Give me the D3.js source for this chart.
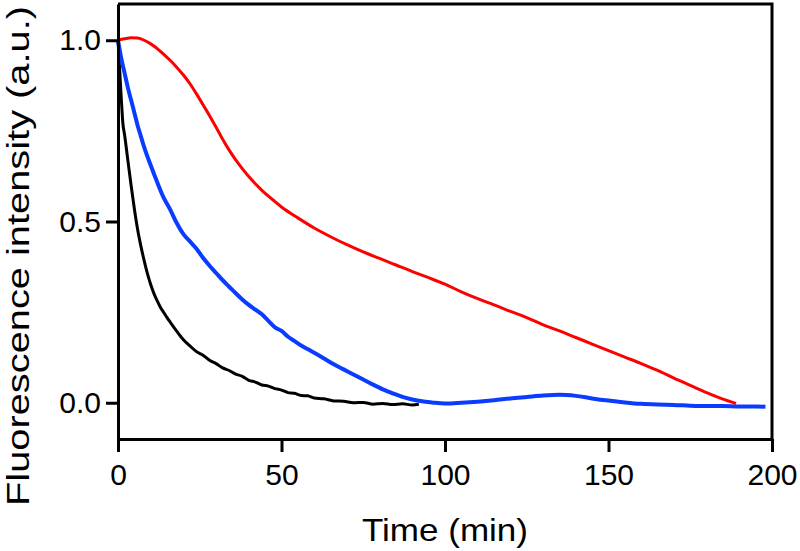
<!DOCTYPE html>
<html>
<head>
<meta charset="utf-8">
<script src="https://cdn.jsdelivr.net/npm/d3@7"></script>
<style>
  html, body { margin: 0; padding: 0; background: #fff; }
  svg { display: block; }
  text { font-family: "Liberation Sans", Arial, Helvetica, sans-serif; fill: #000; }
</style>
</head>
<body>
<svg id="chart" width="800" height="551"></svg>
<script>
// ---- Data ----
const xTicks = [0, 50, 100, 150, 200];
const yTicks = [0.0, 0.5, 1.0];
const xLabel = "Time (min)";
const yLabel = "Fluorescence intensity (a.u.)";

const blackTime = [0,0.5,1,1.5,2,3,4,5,6,7,8,9,10,11,12,13,14,15,16,18,20,22,24,26,28,30,32,34,36,38,40,42,44,46,48,50,52,54,56,58,60,63,66,69,72,75,78,81,84,87,90,92];
const blackValue = [1.0,0.92,0.84,0.77,0.74,0.67,0.60,0.535,0.478,0.432,0.392,0.356,0.326,0.301,0.281,0.263,0.249,0.235,0.222,0.197,0.174,0.157,0.141,0.131,0.117,0.108,0.096,0.089,0.079,0.073,0.062,0.057,0.049,0.046,0.039,0.035,0.028,0.026,0.020,0.019,0.013,0.011,0.005,0.004,0.000,0.001,-0.004,-0.002,-0.005,-0.003,-0.006,-0.004];

const blueTime = [0,1,2,3,4,5,6,7,8,10,12,14,16,18,20,22,24,26,28,30,32,34,36,38,40,42,44,46,48,50,52,54,56,58,60,63,66,69,72,75,78,81,84,87,90,93,96,100,105,110,115,120,125,130,135,140,145,150,155,160,165,170,175,180,185,190,195,198];
const blueValue = [1.0,0.95,0.91,0.87,0.835,0.80,0.765,0.735,0.705,0.655,0.608,0.565,0.532,0.495,0.465,0.445,0.425,0.400,0.378,0.358,0.338,0.320,0.302,0.285,0.270,0.257,0.244,0.226,0.208,0.198,0.182,0.170,0.158,0.148,0.138,0.122,0.106,0.092,0.078,0.064,0.050,0.037,0.026,0.016,0.009,0.004,0.001,-0.002,0.000,0.003,0.007,0.012,0.016,0.020,0.022,0.019,0.012,0.006,0.001,-0.003,-0.005,-0.006,-0.008,-0.009,-0.009,-0.010,-0.010,-0.011];

const redTime = [0,2,4,6,8,10,12,14,16,18,20,22,24,26,28,30,32,34,36,38,40,42,44,46,48,50,55,60,65,70,75,80,85,90,95,100,105,110,115,120,125,130,135,140,145,150,155,160,165,170,175,180,185,189];
const redValue = [1.000,1.004,1.007,1.006,1.000,0.990,0.977,0.961,0.944,0.925,0.904,0.880,0.852,0.822,0.792,0.760,0.727,0.697,0.670,0.646,0.624,0.604,0.586,0.570,0.555,0.540,0.510,0.482,0.458,0.436,0.416,0.398,0.380,0.362,0.345,0.327,0.306,0.287,0.270,0.252,0.235,0.215,0.198,0.180,0.162,0.144,0.126,0.108,0.089,0.068,0.048,0.028,0.010,-0.002];

const seriesColors = ["#000000", "#0a3cff", "#ff0000"];

// ---- Chart ----
const svg = d3.select("#chart");
const x = d3.scaleLinear().domain([0, 200]).range([118, 772]);
const y = d3.scaleLinear().domain([-0.1, 1.1]).range([439, 4]);

const series = [
  { t: blackTime, v: blackValue, color: seriesColors[0], w: 3 },
  { t: blueTime,  v: blueValue,  color: seriesColors[1], w: 4 },
  { t: redTime,   v: redValue,   color: seriesColors[2], w: 3 }
];

const line = d3.line()
  .x(d => x(d[0]))
  .y(d => y(d[1]))
  .curve(d3.curveMonotoneX);

series.forEach(s => {
  const pts = s.t.map((t, i) => [t, s.v[i]]);
  svg.append("path")
    .datum(pts)
    .attr("fill", "none")
    .attr("stroke", s.color)
    .attr("stroke-width", s.w)
    .attr("stroke-linejoin", "round")
    .attr("d", line);
});

// frame (top and right)
svg.append("path")
  .attr("d", `M${x(0)},${y(1.1)} H${x(200)} V${y(-0.1)}`)
  .attr("fill", "none")
  .attr("stroke", "#000")
  .attr("stroke-width", 3);

// axes
const xAxis = d3.axisBottom(x).tickValues(xTicks).tickFormat(d3.format("d"))
  .tickSize(13).tickSizeOuter(0).tickPadding(12);
const gx = svg.append("g").attr("transform", `translate(0,${y(-0.1)})`).call(xAxis);

const yAxis = d3.axisLeft(y).tickValues(yTicks).tickFormat(d3.format(".1f"))
  .tickSize(12).tickSizeOuter(0).tickPadding(5);
const gy = svg.append("g").attr("transform", `translate(${x(0)},0)`).call(yAxis);

[gx, gy].forEach(g => {
  g.select(".domain").attr("stroke", "#000").attr("stroke-width", 3);
  g.selectAll(".tick line").attr("stroke", "#000").attr("stroke-width", 3);
  g.selectAll(".tick text")
    .attr("font-family", "Liberation Sans, Arial, sans-serif")
    .attr("font-size", 30)
    .attr("fill", "#000");
});

// axis titles
svg.append("text")
  .attr("x", 445)
  .attr("y", 541)
  .attr("text-anchor", "middle")
  .attr("font-size", 32)
  .attr("textLength", 166)
  .attr("lengthAdjust", "spacingAndGlyphs")
  .text(xLabel);

svg.append("text")
  .attr("transform", "translate(28.5,256) rotate(-90)")
  .attr("text-anchor", "middle")
  .attr("font-size", 30.5)
  .attr("textLength", 500)
  .attr("lengthAdjust", "spacingAndGlyphs")
  .text(yLabel);
</script>
</body>
</html>
